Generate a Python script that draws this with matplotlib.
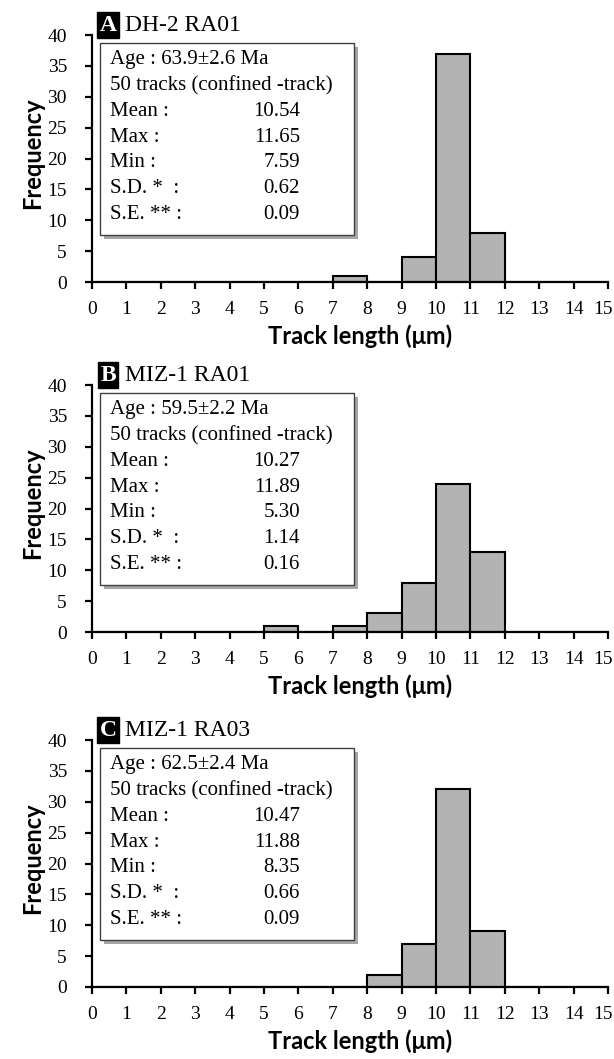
import matplotlib
matplotlib.use('Agg')
import matplotlib.pyplot as plt
import matplotlib.transforms as mtransforms
from matplotlib.patches import Rectangle

# bin edges (track length, um) and counts per panel
bin_edges = list(range(0, 16))
counts_a = [0, 0, 0, 0, 0, 0, 0, 1, 0, 4, 37, 8, 0, 0, 0]
counts_b = [0, 0, 0, 0, 0, 1, 0, 1, 3, 8, 24, 13, 0, 0, 0]
counts_c = [0, 0, 0, 0, 0, 0, 0, 0, 2, 7, 32, 9, 0, 0, 0]

letters = ['A', 'B', 'C']
samples = ['DH-2 RA01', 'MIZ-1 RA01', 'MIZ-1 RA03']
ages = ['63.9\u00b12.6 Ma', '59.5\u00b12.2 Ma', '62.5\u00b12.4 Ma']
stat_labels = ['Mean :', 'Max :', 'Min :', 'S.D. *  :', 'S.E. ** :']
stats_a = ['10.54', '11.65', '7.59', '0.62', '0.09']
stats_b = ['10.27', '11.89', '5.30', '1.14', '0.16']
stats_c = ['10.47', '11.88', '8.35', '0.66', '0.09']

serif = 'Liberation Serif'
sans = 'Lato'

fig = plt.figure(figsize=(6.14, 10.59), dpi=100)
bottoms = [0.7337, 0.4032, 0.0680]
panels = zip(bottoms, [counts_a, counts_b, counts_c], letters, samples, ages,
             [stats_a, stats_b, stats_c])

for bottom, counts, letter, sample, age, stats in panels:
    ax = fig.add_axes([0.1498, bottom, 0.8404, 0.2332])
    ax.bar(bin_edges[:-1], counts, width=1, align='edge', color='#b3b3b3',
           edgecolor='black', linewidth=1.5, zorder=2)
    ax.set_xlim(0, 15)
    ax.set_ylim(0, 40)
    ax.set_xticks(bin_edges)
    ax.set_yticks(range(0, 41, 5))
    ax.spines['top'].set_visible(False)
    ax.spines['right'].set_visible(False)
    for s in ['left', 'bottom']:
        ax.spines[s].set_linewidth(1.6)
        ax.spines[s].set_zorder(3)
    ax.tick_params(direction='out', length=5, width=1.6, labelsize=14)
    ax.tick_params(axis='x', pad=9)
    ax.tick_params(axis='y', pad=13)
    for lab in ax.get_xticklabels() + ax.get_yticklabels():
        lab.set_fontfamily(serif)
    # last x label sits a little left so it stays inside the figure
    last = ax.get_xticklabels()[-1]
    last.set_transform(last.get_transform() +
                       mtransforms.ScaledTranslation(-5 / 100, 0, fig.dpi_scale_trans))
    ax.set_xlabel('Track length (\u03bcm)', fontfamily=sans, fontweight='bold',
                  fontsize=17)
    ax.xaxis.set_label_coords(0.52, -0.17)
    ax.set_ylabel('Frequency', fontfamily=sans, fontweight='bold', fontsize=17)
    ax.yaxis.set_label_coords(-0.093, 0.52)

    # stats box with shadow
    ax.add_patch(Rectangle((0.0235, 0.174), 0.4925, 0.778, transform=ax.transAxes,
                           facecolor='#a6a6a6', edgecolor='none', zorder=4,
                           clip_on=False))
    ax.add_patch(Rectangle((0.0155, 0.190), 0.4925, 0.778, transform=ax.transAxes,
                           facecolor='white', edgecolor='#404040', linewidth=1,
                           zorder=5, clip_on=False))
    ax.text(0.035, 0.899, 'Age : ' + age, transform=ax.transAxes, va='center',
            fontfamily=serif, fontsize=15, zorder=6)
    ax.text(0.035, 0.795, '50 tracks (confined -track)', transform=ax.transAxes,
            va='center', fontfamily=serif, fontsize=15, zorder=6)
    for i, (lab, val) in enumerate(zip(stat_labels, stats)):
        y = 0.691 - 0.104 * i
        ax.text(0.035, y, lab, transform=ax.transAxes, va='center',
                fontfamily=serif, fontsize=15, zorder=6)
        ax.text(0.403, y, val, transform=ax.transAxes, va='center', ha='right',
                fontfamily=serif, fontsize=15, zorder=6)

    # panel title
    ax.text(0.031, 1.040, letter, transform=ax.transAxes, ha='center', va='center',
            color='white', fontfamily=serif, fontweight='bold', fontsize=17,
            bbox=dict(boxstyle='square,pad=0.1', facecolor='black', edgecolor='black'))
    ax.text(0.064, 1.040, sample, transform=ax.transAxes, va='center',
            fontfamily=serif, fontsize=17)

fig.savefig('out.png', dpi=100)
